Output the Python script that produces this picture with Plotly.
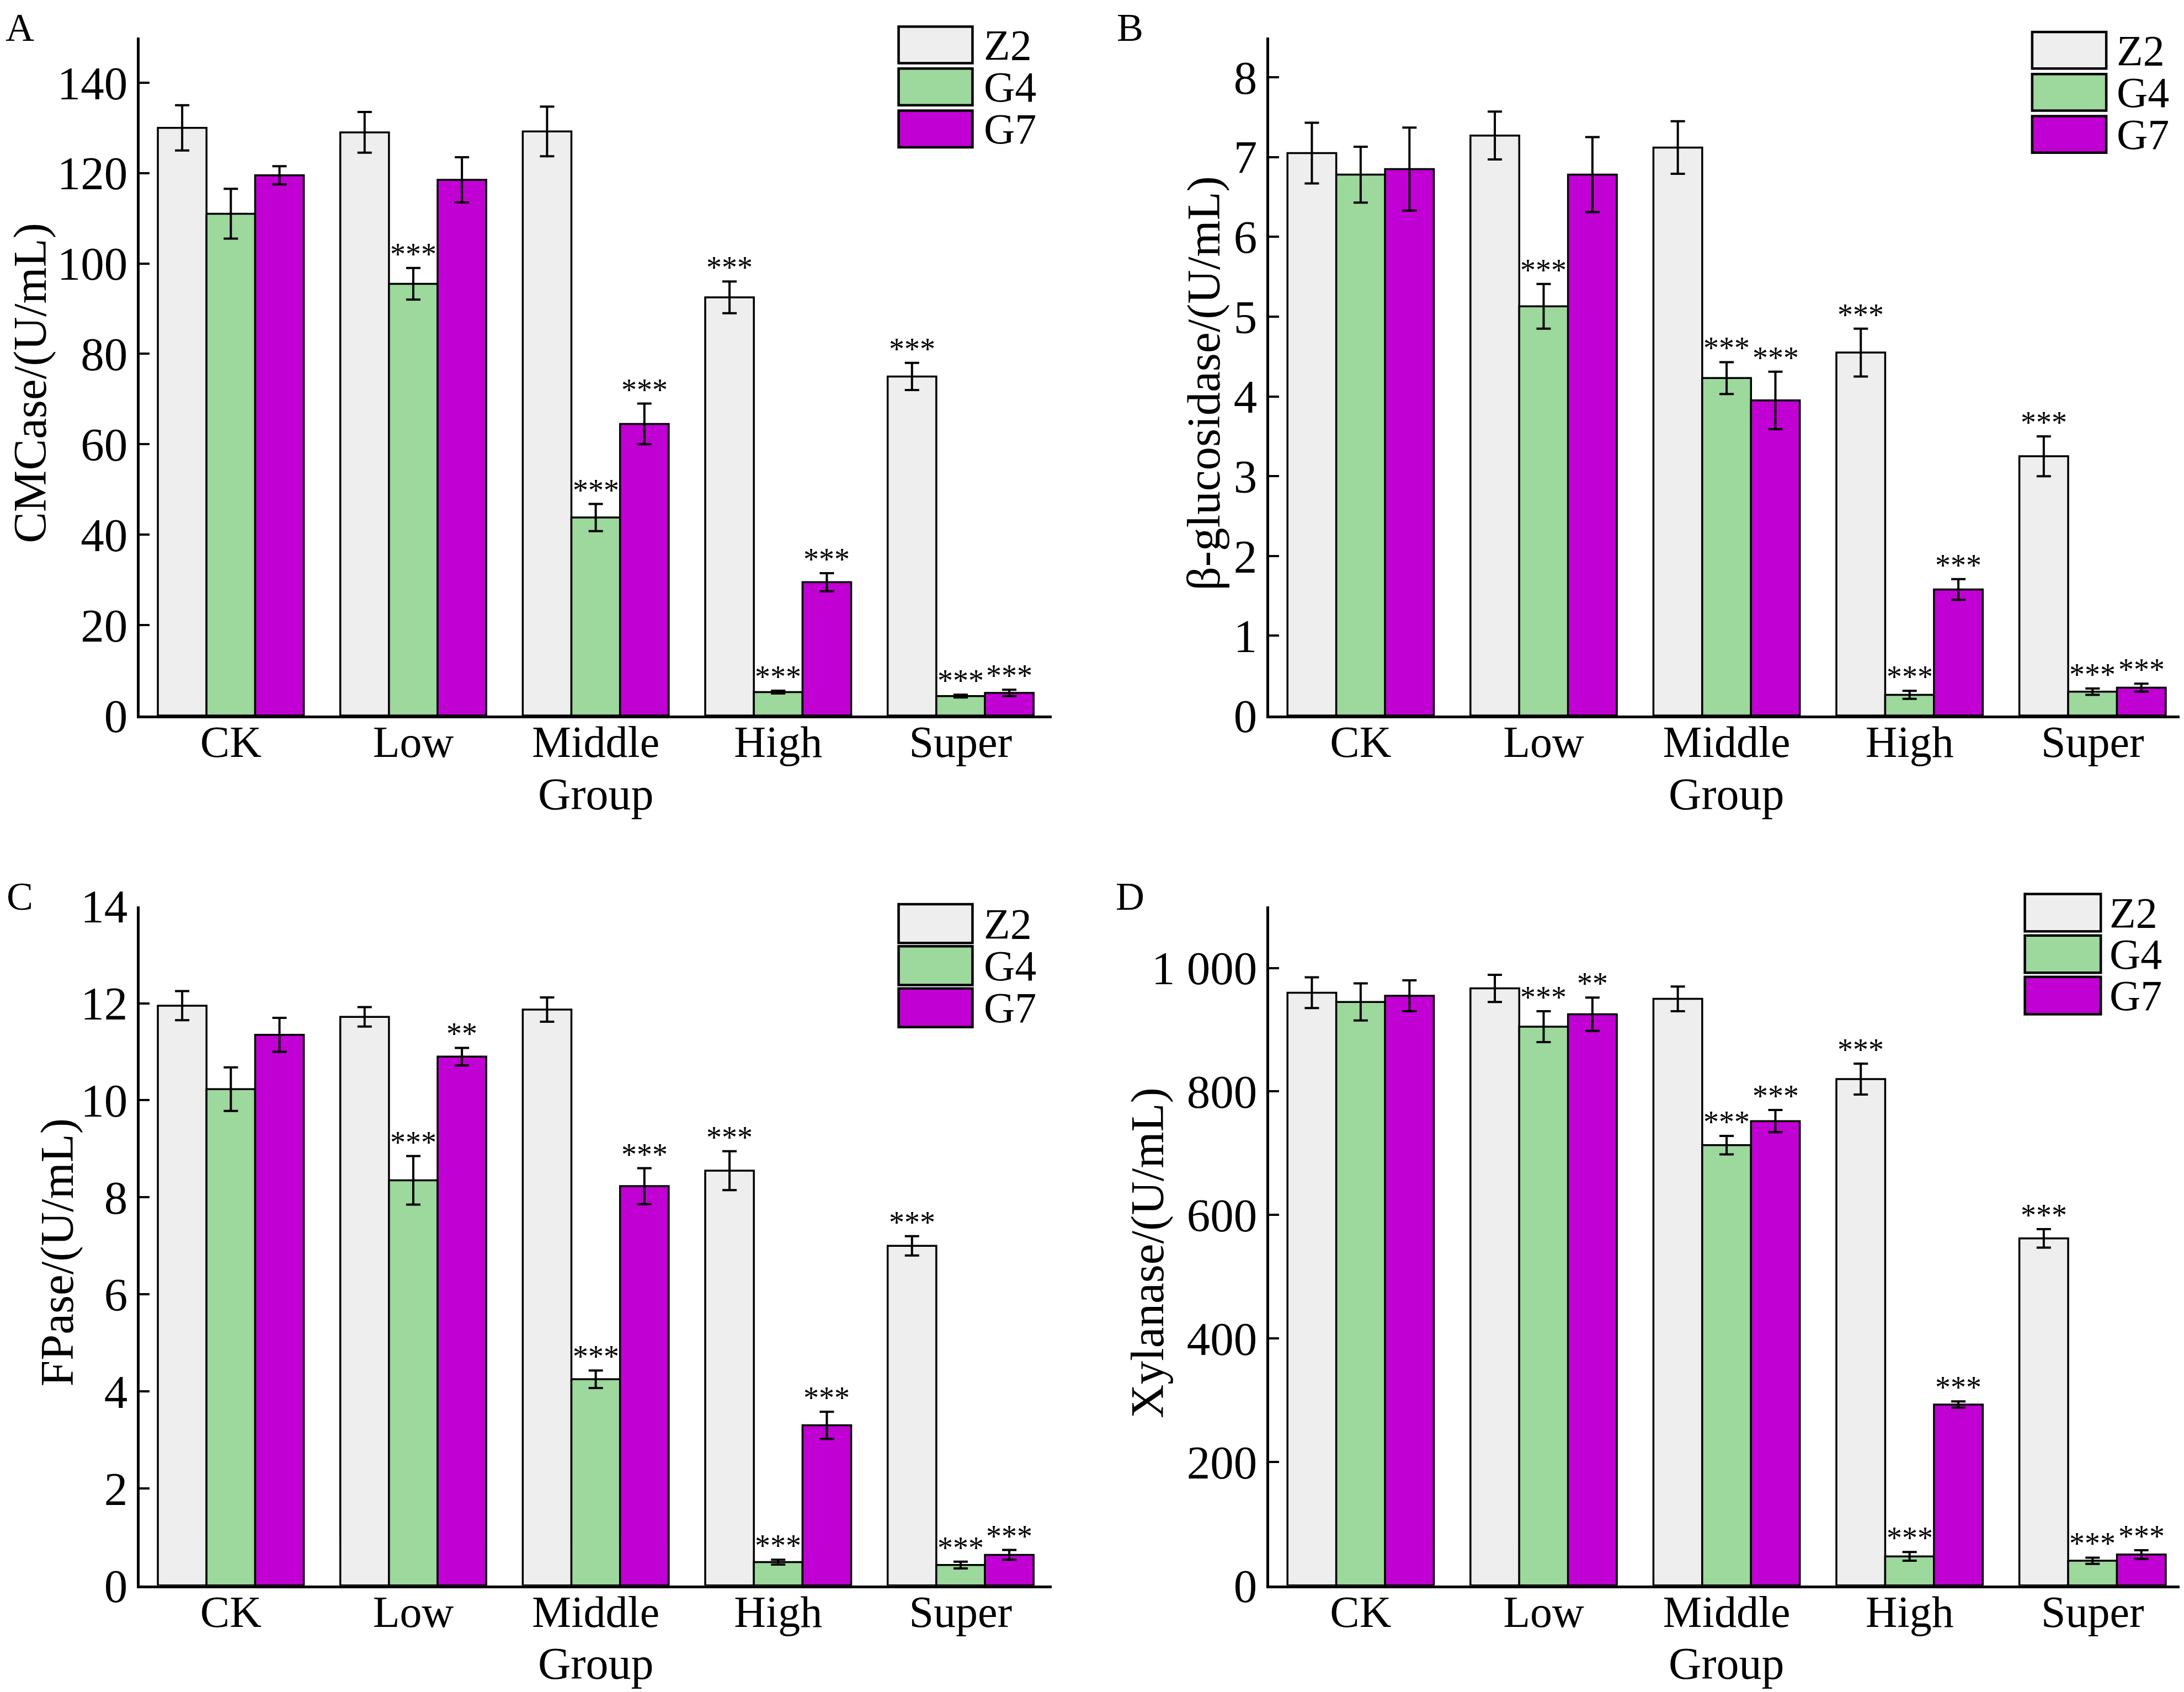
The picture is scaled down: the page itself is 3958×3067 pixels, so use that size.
import plotly.graph_objects as go
from plotly.subplots import make_subplots

groups = ["CK", "Low", "Middle", "High", "Super"]
strains = ["Z2", "G4", "G7"]
colors = ["#eeeeee", "#9dd89c", "#c100d3"]

# A - CMCase
cmc_z2 = [130.0, 129.0, 129.2, 92.5, 75.0]
cmc_z2_err = [5.0, 4.5, 5.5, 3.5, 3.0]
cmc_g4 = [111.0, 95.5, 43.8, 5.2, 4.3]
cmc_g4_err = [5.5, 3.5, 3.0, 0.3, 0.3]
cmc_g7 = [119.5, 118.5, 64.5, 29.5, 5.0]
cmc_g7_err = [2.0, 5.0, 4.5, 2.0, 0.7]

# B - beta-glucosidase
bg_z2 = [7.05, 7.27, 7.12, 4.55, 3.25]
bg_z2_err = [0.38, 0.30, 0.33, 0.30, 0.25]
bg_g4 = [6.78, 5.13, 4.23, 0.26, 0.30]
bg_g4_err = [0.35, 0.28, 0.20, 0.05, 0.04]
bg_g7 = [6.85, 6.78, 3.95, 1.58, 0.35]
bg_g7_err = [0.52, 0.47, 0.36, 0.13, 0.05]

# C - FPase
fp_z2 = [11.95, 11.72, 11.87, 8.55, 7.0]
fp_z2_err = [0.30, 0.20, 0.25, 0.40, 0.20]
fp_g4 = [10.23, 8.35, 4.25, 0.48, 0.42]
fp_g4_err = [0.45, 0.50, 0.18, 0.05, 0.07]
fp_g7 = [11.35, 10.9, 8.23, 3.3, 0.63]
fp_g7_err = [0.35, 0.18, 0.37, 0.28, 0.10]

# D - Xylanase
xy_z2 = [960, 967, 950, 820, 562]
xy_z2_err = [25, 22, 20, 25, 15]
xy_g4 = [945, 905, 713, 47, 40]
xy_g4_err = [30, 25, 15, 7, 5]
xy_g7 = [955, 925, 752, 293, 50]
xy_g7_err = [25, 27, 18, 5, 7]

# significance marks
sig_z2 = ["", "", "", "***", "***"]
sig_g4 = ["", "***", "***", "***", "***"]
sig_g7_ab = ["", "", "***", "***", "***"]
sig_g7_cd = ["", "**", "***", "***", "***"]

panels = [
    dict(letter="A", title="CMCase/(U/mL)", rng=[0, 150], dtick=20,
         vals=[cmc_z2, cmc_g4, cmc_g7], errs=[cmc_z2_err, cmc_g4_err, cmc_g7_err],
         sigs=[sig_z2, sig_g4, sig_g7_ab]),
    dict(letter="B", title="β-glucosidase/(U/mL)", rng=[0, 8.5], dtick=1,
         vals=[bg_z2, bg_g4, bg_g7], errs=[bg_z2_err, bg_g4_err, bg_g7_err],
         sigs=[sig_z2, sig_g4, sig_g7_ab]),
    dict(letter="C", title="FPase/(U/mL)", rng=[0, 14], dtick=2,
         vals=[fp_z2, fp_g4, fp_g7], errs=[fp_z2_err, fp_g4_err, fp_g7_err],
         sigs=[sig_z2, sig_g4, sig_g7_cd]),
    dict(letter="D", title="Xylanase/(U/mL)", rng=[0, 1100], dtick=200,
         vals=[xy_z2, xy_g4, xy_g7], errs=[xy_z2_err, xy_g4_err, xy_g7_err],
         sigs=[sig_z2, sig_g4, sig_g7_cd]),
]

FONT = "Liberation Serif, Times New Roman, serif"

x_domains = [[0.0619, 0.4796], [0.5791, 0.998], [0.0619, 0.4796], [0.5791, 0.998]]
y_domains = [[0.5797, 0.9805], [0.5797, 0.9805], [0.0656, 0.467], [0.0656, 0.467]]
letter_pos = [(0.0071, 1.0), (0.5154, 1.0), (0.0071, 0.4865), (0.5154, 0.4865)]
ytitle_x = [0.0119, 0.5492, 0.0242, 0.5233]
# legend box placement inside each axis domain (x0, x1, top of first box, box height, step, text x)
legend_geo = [
    (0.832, 0.913, 1.016, 0.054, 0.062, 0.925),
    (0.834, 0.915, 1.008, 0.054, 0.062, 0.926),
    (0.832, 0.913, 1.003, 0.057, 0.062, 0.925),
    (0.826, 0.909, 1.018, 0.055, 0.061, 0.918),
]

fig = make_subplots(rows=2, cols=2)

idx = list(range(len(groups)))
bar_w = 0.8 / 3
annotations = []
shapes = []

for p, panel in enumerate(panels):
    row, col = p // 2 + 1, p % 2 + 1
    xr = "x" if p == 0 else f"x{p + 1}"
    yr = "y" if p == 0 else f"y{p + 1}"
    for s in range(3):
        off = -0.4 + s * bar_w
        fig.add_trace(
            go.Bar(
                x=idx,
                y=panel["vals"][s],
                width=bar_w,
                offset=off,
                name=strains[s],
                showlegend=False,
                marker=dict(color=colors[s], line=dict(color="black", width=3.5)),
                error_y=dict(type="data", array=panel["errs"][s], color="black",
                             thickness=4, width=13),
            ),
            row=row, col=col,
        )
        for i in idx:
            if panel["sigs"][s][i]:
                annotations.append(dict(
                    x=i + off + bar_w / 2, y=panel["vals"][s][i] + panel["errs"][s][i],
                    xref=xr, yref=yr, text=panel["sigs"][s][i], showarrow=False,
                    yanchor="bottom", yshift=-8,
                    font=dict(family=FONT, size=56, color="black"),
                ))

    axis_font = dict(family=FONT, size=85, color="black")
    fig.update_xaxes(
        domain=x_domains[p], range=[-0.5, 4.5], tickvals=idx, ticktext=groups,
        showline=True, linecolor="black", linewidth=4.5, ticks="", showgrid=False,
        zeroline=False, tickfont=dict(family=FONT, size=80, color="black"),
        ticklabelstandoff=-26, row=row, col=col,
    )
    fig.update_yaxes(
        domain=y_domains[p], range=panel["rng"], dtick=panel["dtick"], tick0=0,
        showline=True, linecolor="black", linewidth=4.5, ticks="inside",
        ticklen=18, tickwidth=4, tickcolor="black", showgrid=False, zeroline=False,
        tickfont=axis_font, separatethousands=True, row=row, col=col,
    )

    # panel letter
    lx, ly = letter_pos[p]
    annotations.append(dict(x=lx, y=ly, xref="paper", yref="paper", text=panel["letter"],
                            showarrow=False, xanchor="center", yanchor="top",
                            font=dict(family=FONT, size=72, color="black")))
    # y title
    annotations.append(dict(x=ytitle_x[p], y=0.49, xref="paper", yref=f"{yr} domain",
                            text=panel["title"], textangle=-90, showarrow=False,
                            xanchor="center", yanchor="middle", font=axis_font))
    # x title
    annotations.append(dict(x=0.5, y=0, xref=f"{xr} domain", yref=f"{yr} domain",
                            text="Group", showarrow=False, xanchor="center",
                            yanchor="middle", yshift=-142, font=dict(family=FONT, size=82, color="black")))

    # legend drawn as boxes + labels
    x0, x1, top, h, step, tx = legend_geo[p]
    for s in range(3):
        y1 = top - s * step
        shapes.append(dict(type="rect", xref=f"{xr} domain", yref=f"{yr} domain",
                           x0=x0, x1=x1, y0=y1 - h, y1=y1, fillcolor=colors[s],
                           line=dict(color="black", width=4.5)))
        annotations.append(dict(x=tx, y=y1 - h / 2, xref=f"{xr} domain", yref=f"{yr} domain",
                                text=strains[s], showarrow=False, xanchor="left",
                                yanchor="middle", borderpad=0,
                                font=dict(family=FONT, size=78, color="black")))

fig.update_layout(
    width=3958, height=3067,
    margin=dict(l=0, r=0, t=0, b=0, autoexpand=False),
    paper_bgcolor="white", plot_bgcolor="white",
    barmode="overlay",
    separators=". ",
    showlegend=False,
    annotations=annotations,
    shapes=shapes,
    font=dict(family=FONT, color="black"),
)

fig.write_html("out.html")
